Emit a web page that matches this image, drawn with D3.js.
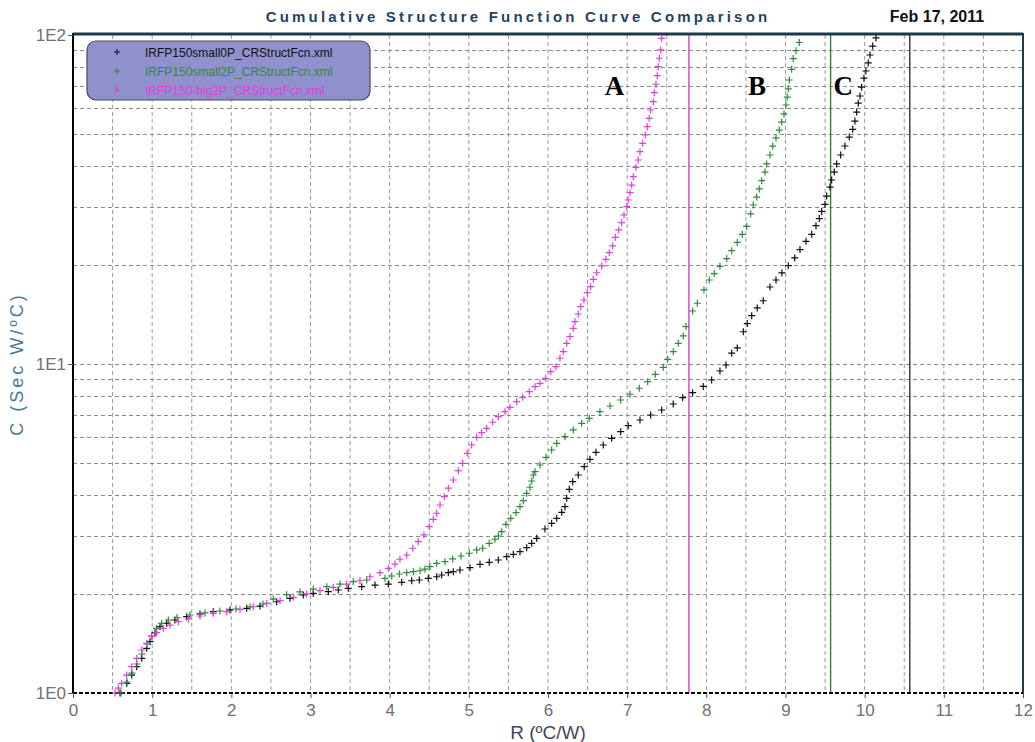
<!DOCTYPE html>
<html>
<head>
<meta charset="utf-8">
<script src="https://cdn.jsdelivr.net/npm/d3@7"></script>
<style>
  html, body { margin: 0; padding: 0; background: #fff; }
  svg { display: block; }
</style>
</head>
<body>
<svg id="chart" width="1035" height="742"></svg>
<script>
// ---------------- DATA ----------------
const title = "Cumulative Structure Function Curve Comparison";
const dateText = "Feb 17, 2011";
const xLabel = "R (ºC/W)";
const yLabel = "C (Sec W/ºC)";
const xTicks = [0,1,2,3,4,5,6,7,8,9,10,11,12];
const yTicks = [1, 10, 100];
const yTickLabels = ["1E0", "1E1", "1E2"];
const seriesNames = ["IRFP150small0P_CRStructFcn.xml", "IRFP150small2P_CRStructFcn.xml", "IRFP150-big2P_CRStructFcn.xml"];
const markerLines = [10.57, 9.57, 7.78];   // vertical markers for black, green, magenta
const annotations = [{t:"A", r:6.84}, {t:"B", r:8.64}, {t:"C", r:9.73}];

// [R, C] pairs
const small0P = [
[0.594,1.00],[0.678,1.07],[0.741,1.134],[0.805,1.202],[0.868,1.275],[0.931,1.367],[0.973,1.432],[1.036,1.525],
[1.099,1.591],[1.183,1.629],[1.288,1.667],[1.436,1.706],[1.604,1.739],[1.772,1.767],[1.983,1.788],[2.194,1.809],
[2.362,1.838],[2.573,1.894],[2.741,1.940],[2.909,1.986],[3.035,2.009],[3.225,2.032],[3.351,2.056],[3.477,2.081],
[3.647,2.104],[3.815,2.129],[3.983,2.144],[4.152,2.170],[4.278,2.194],[4.374,2.205],[4.488,2.231],[4.594,2.256],
[4.657,2.284],[4.741,2.321],[4.804,2.337],[4.888,2.365],[5.015,2.404],[5.141,2.461],[5.258,2.496],[5.372,2.537],
[5.478,2.596],[5.562,2.640],[5.646,2.689],[5.731,2.765],[5.794,2.851],[5.857,2.953],[5.962,3.151],[6.046,3.280],
[6.110,3.396],[6.173,3.542],[6.214,3.684],[6.236,3.907],[6.269,4.160],[6.312,4.388],[6.382,4.599],[6.458,4.874],
[6.530,5.132],[6.606,5.390],[6.698,5.673],[6.804,5.945],[6.918,6.226],[7.014,6.494],[7.162,6.758],[7.297,6.998],
[7.436,7.247],[7.582,7.558],[7.701,7.899],[7.827,8.181],[7.961,8.549],[8.067,8.940],[8.172,9.522],[8.248,9.931],
[8.320,10.79],[8.391,11.19],[8.467,12.53],[8.517,13.27],[8.573,14.02],[8.643,14.81],[8.719,15.57],[8.804,17.14],
[8.880,18.00],[8.955,18.92],[9.035,19.90],[9.116,21.01],[9.183,22.27],[9.259,23.59],[9.331,24.79],[9.385,26.33],
[9.427,27.67],[9.457,29.09],[9.499,30.58],[9.520,32.38],[9.562,34.49],[9.583,36.25],[9.616,38.31],[9.646,40.57],
[9.697,43.18],[9.751,45.98],[9.806,48.94],[9.849,51.69],[9.877,54.74],[9.899,58.31],[9.919,62.04],[9.941,65.25],
[9.962,69.43],[9.991,73.90],[10.016,77.72],[10.045,82.27],[10.067,86.95],[10.101,92.53],[10.143,98.0]
];

const small2P = [
[0.606,1.00],[0.682,1.080],[0.745,1.150],[0.808,1.225],[0.872,1.314],[0.935,1.409],[0.994,1.490],[1.057,1.573],
[1.120,1.629],[1.204,1.667],[1.314,1.696],[1.478,1.726],[1.667,1.751],[1.857,1.775],[2.059,1.800],[2.236,1.826],
[2.400,1.864],[2.530,1.930],[2.699,1.990],[2.867,2.030],[3.035,2.070],[3.205,2.105],[3.372,2.144],[3.540,2.179],
[3.710,2.205],[3.941,2.231],[4.026,2.268],[4.122,2.300],[4.215,2.321],[4.299,2.337],[4.383,2.353],[4.446,2.381],
[4.509,2.420],[4.594,2.479],[4.699,2.507],[4.796,2.555],[4.901,2.609],[5.006,2.659],[5.099,2.721],[5.175,2.754],
[5.258,2.851],[5.330,2.933],[5.372,3.001],[5.415,3.093],[5.469,3.257],[5.529,3.396],[5.596,3.532],[5.646,3.684],
[5.688,3.842],[5.731,4.046],[5.772,4.220],[5.794,4.410],[5.814,4.599],[5.836,4.706],[5.899,4.932],[5.975,5.205],
[6.046,5.478],[6.110,5.741],[6.214,6.012],[6.319,6.302],[6.425,6.604],[6.521,6.839],[6.656,7.161],[6.783,7.453],
[6.918,7.774],[7.036,8.091],[7.153,8.438],[7.259,8.836],[7.355,9.305],[7.456,9.772],[7.512,10.33],[7.582,10.90],
[7.646,11.56],[7.709,12.17],[7.743,12.99],[7.827,14.49],[7.886,15.30],[7.970,16.79],[8.037,18.00],[8.100,18.83],
[8.172,19.81],[8.257,20.91],[8.320,22.11],[8.391,23.41],[8.454,24.79],[8.510,26.19],[8.560,28.59],[8.593,30.43],
[8.636,32.16],[8.669,34.06],[8.699,36.07],[8.741,38.31],[8.762,40.57],[8.804,43.18],[8.838,45.95],[8.880,48.67],
[8.921,51.42],[8.952,54.37],[8.981,57.57],[9.006,61.27],[9.022,64.75],[9.035,68.59],[9.048,72.99],[9.078,78.65],
[9.098,84.79],[9.132,89.61],[9.174,94.89]
];

const big2P = [
[0.531,1.00],[0.573,1.035],[0.615,1.070],[0.678,1.134],[0.741,1.202],[0.805,1.275],[0.868,1.351],[0.931,1.416],
[0.994,1.483],[1.057,1.525],[1.141,1.573],[1.225,1.609],[1.330,1.647],[1.456,1.679],[1.604,1.714],[1.772,1.747],
[1.941,1.767],[2.109,1.796],[2.277,1.829],[2.447,1.873],[2.615,1.908],[2.783,1.954],[2.952,2.000],[3.120,2.046],
[3.288,2.095],[3.457,2.144],[3.625,2.194],[3.751,2.256],[3.878,2.321],[3.983,2.393],[4.067,2.466],[4.130,2.550],
[4.215,2.627],[4.291,2.754],[4.361,2.884],[4.433,3.023],[4.500,3.203],[4.551,3.373],[4.594,3.518],[4.636,3.728],
[4.690,3.951],[4.741,4.192],[4.804,4.440],[4.867,4.739],[4.922,4.991],[4.980,5.353],[5.036,5.673],[5.099,5.987],
[5.162,6.183],[5.225,6.377],[5.301,6.651],[5.372,6.917],[5.457,7.161],[5.520,7.386],[5.604,7.681],[5.680,7.921],
[5.764,8.238],[5.836,8.531],[5.899,8.737],[5.971,9.049],[6.034,9.475],[6.101,9.813],[6.151,10.41],[6.193,10.90],
[6.236,11.56],[6.278,12.11],[6.320,12.84],[6.341,13.45],[6.382,14.19],[6.413,14.94],[6.454,15.65],[6.496,16.47],
[6.539,17.18],[6.572,18.09],[6.615,18.94],[6.678,19.86],[6.732,20.81],[6.774,21.80],[6.817,22.85],[6.850,24.27],
[6.893,25.55],[6.931,26.89],[6.960,28.38],[6.994,30.07],[7.014,31.51],[7.036,33.17],[7.057,34.99],[7.077,37.09],
[7.111,39.62],[7.140,41.70],[7.162,44.19],[7.196,46.86],[7.229,49.66],[7.254,52.64],[7.279,55.83],[7.297,59.16],
[7.330,62.70],[7.343,66.77],[7.364,70.84],[7.380,75.21],[7.393,80.09],[7.406,84.99],[7.423,90.07],[7.436,97.72]
];

const seriesColors = ["#111111", "#2f8a3a", "#dd40dd"];
const lineColors = ["#222222", "#2d7d2d", "#cc33cc"];

// ---------------- CHART ----------------
const svg = d3.select("#chart");
const X0 = 73, X1 = 1023, Y0 = 35, Y1 = 693;
const x = d3.scaleLinear().domain([0, 12]).range([X0, X1]);
const y = d3.scaleLog().domain([1, 100]).range([Y1, Y0]);
const FONT = "Arial, 'Liberation Sans', sans-serif";

// grid
const grid = svg.append("g");
const xGrid = d3.range(1, 24).map(d => d * 0.5);
grid.selectAll("line.vg").data(xGrid).join("line")
  .attr("x1", d => x(d)).attr("x2", d => x(d))
  .attr("y1", Y0).attr("y2", Y1)
  .attr("stroke", "#9a9a9a").attr("stroke-width", 1).attr("stroke-dasharray", "4,3");
const yGrid = [2,3,4,5,6,7,8,9,10,20,30,40,50,60,70,80,90];
grid.selectAll("line.hg").data(yGrid).join("line")
  .attr("x1", X0).attr("x2", X1)
  .attr("y1", d => Math.round(y(d)) + 0.5).attr("y2", d => Math.round(y(d)) + 0.5)
  .attr("stroke", "#8a8a8a").attr("stroke-width", 1).attr("stroke-dasharray", "4,3");

// vertical marker lines
const allSeries = [small0P, small2P, big2P];
svg.append("g").selectAll("line").data(markerLines).join("line")
  .attr("x1", d => x(d)).attr("x2", d => x(d))
  .attr("y1", Y0).attr("y2", Y1)
  .attr("stroke", (d, i) => lineColors[i]).attr("stroke-width", 1.3);

// frame
svg.append("line").attr("x1", X0).attr("x2", X1).attr("y1", Y0 - 1).attr("y2", Y0 - 1)
  .attr("stroke", "#1b3a4c").attr("stroke-width", 3);
svg.append("line").attr("x1", X1).attr("x2", X1).attr("y1", Y0 - 2).attr("y2", Y1)
  .attr("stroke", "#1b3a4c").attr("stroke-width", 2);
svg.append("line").attr("x1", X0).attr("x2", X1).attr("y1", Y1).attr("y2", Y1)
  .attr("stroke", "#000").attr("stroke-width", 2).attr("stroke-dasharray", "4,2");
svg.append("line").attr("x1", X0).attr("x2", X0).attr("y1", Y0 - 2).attr("y2", Y1 + 1)
  .attr("stroke", "#000").attr("stroke-width", 2);

// axes
const xAxis = d3.axisBottom(x).tickValues(xTicks).tickSize(5).tickFormat(d3.format("d"));
const gx = svg.append("g").attr("transform", `translate(0,${Y1})`).call(xAxis);
gx.select(".domain").remove();
gx.selectAll(".tick line").attr("stroke", "#555");
gx.selectAll(".tick text").attr("fill", "#707070").attr("font-family", FONT)
  .attr("font-size", 17).attr("dy", "0.9em");

const yAxis = d3.axisLeft(y).tickValues(yTicks).tickSize(5).tickFormat((d, i) => yTickLabels[i]);
const gy = svg.append("g").attr("transform", `translate(${X0},0)`).call(yAxis);
gy.select(".domain").remove();
gy.selectAll(".tick line").attr("stroke", "#555");
gy.selectAll(".tick text").attr("fill", "#707070").attr("font-family", FONT)
  .attr("font-size", 17).attr("x", -7);

// series markers (+)
const plus = "M-3.5,0H3.5M0,-3.5V3.5";
allSeries.forEach((s, i) => {
  svg.append("g").selectAll("path").data(s).join("path")
    .attr("transform", d => `translate(${x(d[0])},${y(d[1])})`)
    .attr("d", plus)
    .attr("stroke", seriesColors[i]).attr("stroke-width", 1.2).attr("fill", "none");
});

// legend
const lg = svg.append("g");
lg.append("rect").attr("x", 87).attr("y", 41).attr("width", 283).attr("height", 59)
  .attr("rx", 9).attr("ry", 9).attr("fill", "#9090cc").attr("stroke", "#4a4a5a").attr("stroke-width", 1.2);
seriesNames.forEach((n, i) => {
  const yy = 52 + i * 19;
  lg.append("path").attr("transform", `translate(117,${yy})`).attr("d", "M-3,0H3M0,-3V3")
    .attr("stroke", seriesColors[i]).attr("stroke-width", 1.1);
  lg.append("text").attr("x", 145).attr("y", yy + 4.5).text(n)
    .attr("font-family", FONT).attr("font-size", 12)
    .attr("fill", seriesColors[i]);
});

// annotations
svg.append("g").selectAll("text").data(annotations).join("text")
  .attr("x", d => x(d.r)).attr("y", 95).attr("text-anchor", "middle")
  .attr("font-family", "'Liberation Serif', 'Times New Roman', serif").attr("font-weight", "bold")
  .attr("font-size", 27).attr("fill", "#000").text(d => d.t);

// title and date
svg.append("text").attr("x", 518).attr("y", 22).attr("text-anchor", "middle")
  .attr("font-family", FONT).attr("font-weight", "bold")
  .attr("font-size", 15).attr("letter-spacing", "3.2px").attr("fill", "#1d4466").text(title);
svg.append("text").attr("x", 937).attr("y", 22).attr("text-anchor", "middle")
  .attr("font-family", FONT).attr("font-weight", "bold")
  .attr("font-size", 16).attr("fill", "#111").text(dateText);

// axis titles
svg.append("text").attr("x", 548).attr("y", 739).attr("text-anchor", "middle")
  .attr("font-family", FONT).attr("font-size", 19)
  .attr("fill", "#3c4b5a").text(xLabel);
svg.append("text").attr("transform", `translate(23,${(Y0 + Y1) / 2}) rotate(-90)`)
  .attr("text-anchor", "middle")
  .attr("font-family", FONT).attr("font-size", 18)
  .attr("letter-spacing", "3px").attr("fill", "#4a7a9a").text(yLabel);
</script>
</body>
</html>
